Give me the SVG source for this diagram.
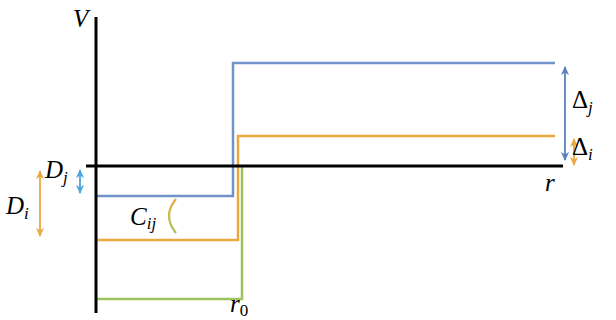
<svg xmlns="http://www.w3.org/2000/svg" width="616" height="320" viewBox="0 0 616 320">
<style>
.ax{stroke:#000;stroke-width:3;fill:none}
.ln{stroke-width:2.5;fill:none}
.blue{stroke:#7193c9}
.orange{stroke:#eaa93e}
.green{stroke:#9dc45c}
.arr{stroke-width:1.8;fill:none}
</style>
<defs>
<marker id="hb" viewBox="0 0 10 10" refX="9" refY="5" markerWidth="9" markerHeight="9" orient="auto-start-reverse" markerUnits="userSpaceOnUse"><path d="M0,0.5 L10,5 L0,9.5 L3,5 Z" fill="#5b7fbf"/></marker>
<marker id="ho" viewBox="0 0 10 10" refX="9" refY="5" markerWidth="9" markerHeight="9" orient="auto-start-reverse" markerUnits="userSpaceOnUse"><path d="M0,0.5 L10,5 L0,9.5 L3,5 Z" fill="#eaa93e"/></marker>
<marker id="hl" viewBox="0 0 10 10" refX="9" refY="5" markerWidth="9" markerHeight="9" orient="auto-start-reverse" markerUnits="userSpaceOnUse"><path d="M0,0.5 L10,5 L0,9.5 L3,5 Z" fill="#4aa5e0"/></marker>
<linearGradient id="cg" x1="0" y1="0" x2="0" y2="1"><stop offset="0" stop-color="#eaa93e"/><stop offset="0.5" stop-color="#c8bb50"/><stop offset="1" stop-color="#9dc45c"/></linearGradient>
</defs>
<g id="curves">
<path class="ln blue" d="M96,196 H233 V63 H555"/>
<path class="ln orange" d="M96,240 H238 V136 H555"/>
<path class="ln green" d="M96,299 H242 V166"/>
</g>
<g id="axes">
<line class="ax" x1="96" y1="17" x2="96" y2="313"/>
<line class="ax" x1="86" y1="166" x2="563" y2="166"/>
</g>
<g id="connectors">
<line class="arr" stroke="#5b7fbf" x1="565" y1="67" x2="565" y2="160" marker-start="url(#hb)" marker-end="url(#hb)"/>
<line class="arr" stroke="#eaa93e" x1="574" y1="139" x2="574" y2="165" marker-start="url(#ho)" marker-end="url(#ho)"/>
<line class="arr" stroke="#4aa5e0" x1="80" y1="170" x2="80" y2="193" marker-start="url(#hl)" marker-end="url(#hl)"/>
<line class="arr" stroke="#eaa93e" x1="40" y1="171" x2="40" y2="236" marker-start="url(#ho)" marker-end="url(#ho)"/>
<path d="M176,199 Q162,216 176,233" stroke="url(#cg)" stroke-width="2.2" fill="none"/>
</g>
<g id="labels" font-family="Liberation Serif, Times New Roman, serif" font-size="25" fill="#000">
<text font-style="italic" x="73" y="27">V</text>
<text font-style="italic" x="545" y="191">r</text>
<text font-style="italic" x="230" y="312">r<tspan font-style="normal" font-size="17" dy="4">0</tspan></text>
<text x="572" y="108">Δ<tspan font-style="italic" font-size="17" dy="5">j</tspan></text>
<text x="572" y="155">Δ<tspan font-style="italic" font-size="17" dy="5">i</tspan></text>
<text font-style="italic" x="45" y="178">D<tspan font-size="17" dy="5">j</tspan></text>
<text font-style="italic" x="6" y="214">D<tspan font-size="17" dy="5">i</tspan></text>
<text font-style="italic" x="130" y="225">C<tspan font-size="17" dy="4">ij</tspan></text>
</g>
</svg>
